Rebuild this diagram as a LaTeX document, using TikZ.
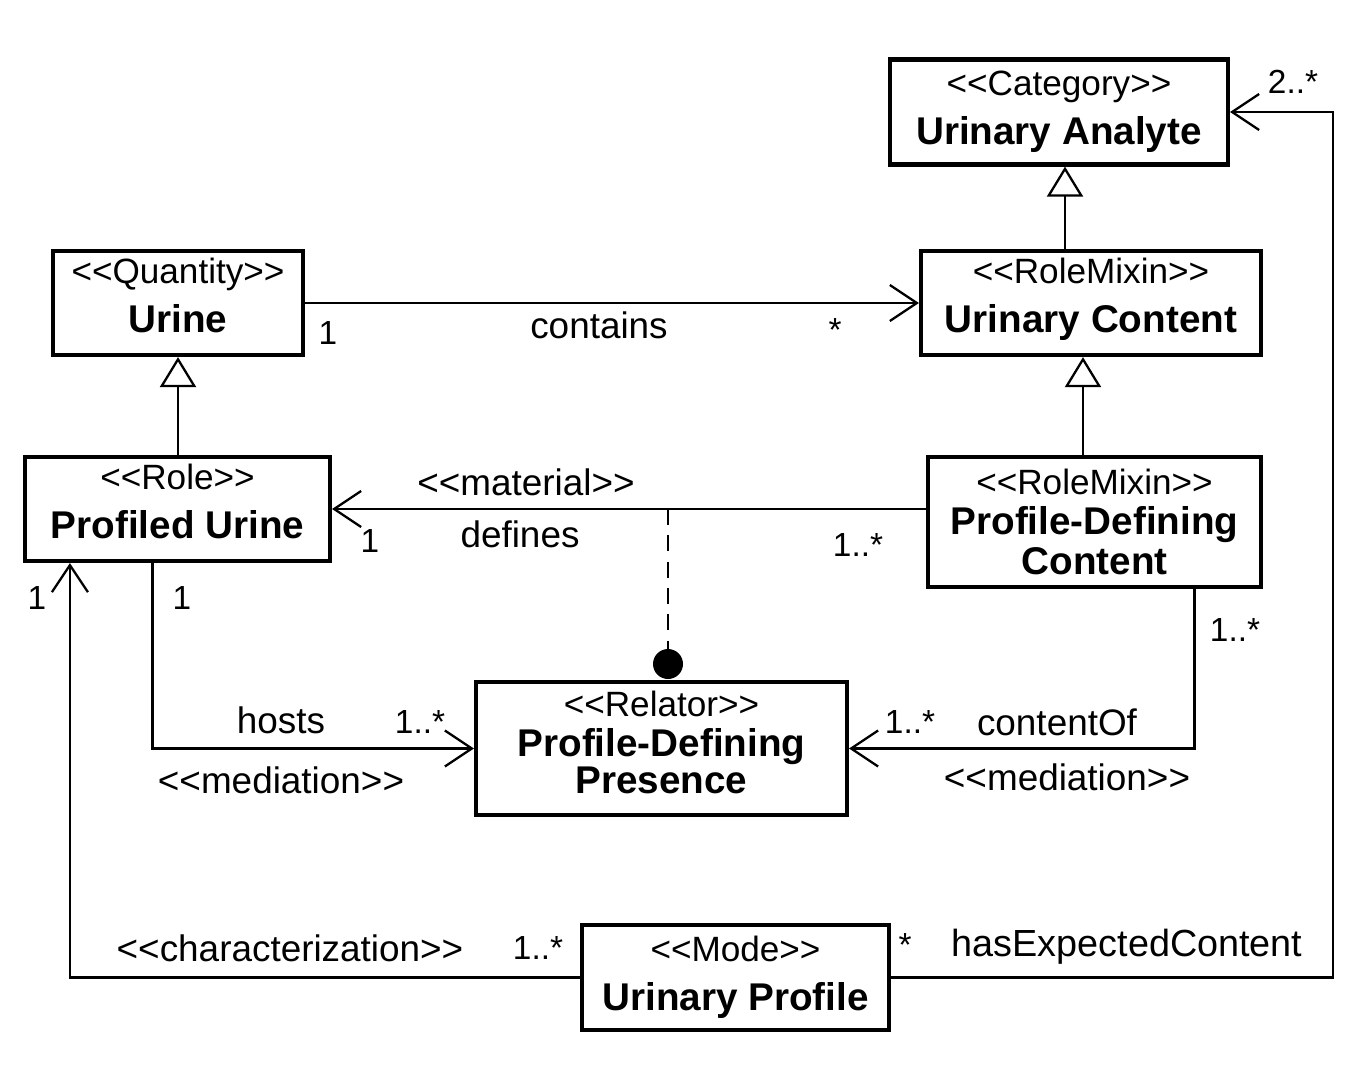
\documentclass[tikz,border=0pt]{standalone}
\usepackage{fontspec}
\setmainfont{Liberation Sans}
\usetikzlibrary{arrows.meta}

\newcommand{\lt}{\textless\kern0pt\textless\kern0pt}
\newcommand{\gt}{\kern0pt\textgreater\kern0pt\textgreater}
\newcommand{\stereo}[1]{{\fontsize{20}{24}\selectfont\lt#1\gt}}
\newcommand{\clsname}[1]{{\bfseries#1}}

\tikzset{
  cls/.style={draw, line width=2.4pt, align=center, inner sep=0pt,
    font=\fontsize{22}{27}\selectfont},
  assoc/.style={line width=1.3pt, -{Straight Barb[length=0.54cm, width=0.72cm, line width=1.3pt]}},
  gen/.style={line width=1.3pt, -{Triangle[open, length=0.6cm, width=0.72cm, line width=1.3pt]}},
  lbl/.style={font=\fontsize{21}{24}\selectfont, inner sep=0pt},
  mult/.style={font=\fontsize{19}{22}\selectfont, inner sep=0pt}
}

\begin{document}
\begin{tikzpicture}[x=0.02cm, y=-0.02cm]

  \useasboundingbox (0,0) rectangle (1370,1076);

  % === Classes ===
  \node[cls, minimum width=6.76cm, minimum height=2.1cm] (uan) at (1059,112)
    {\stereo{Category}\\[1pt]\clsname{Urinary Analyte}};
  \node[cls, minimum width=5.0cm, minimum height=2.08cm, text depth=0.3cm] (urine) at (178,303)
    {\stereo{Quantity}\\[1pt]\clsname{Urine}};
  \node[cls, minimum width=6.8cm, minimum height=2.08cm, text depth=0.3cm] (ucon) at (1091,303)
    {\stereo{RoleMixin}\\[1pt]\clsname{Urinary Content}};
  \node[cls, minimum width=6.1cm, minimum height=2.08cm, text depth=0.3cm] (pu) at (177.5,509)
    {\stereo{Role}\\[1pt]\clsname{Profiled Urine}};
  \node[cls, minimum width=6.66cm, minimum height=2.6cm] (pdc) at (1094.5,522)
    {\stereo{RoleMixin}\\[-4pt]\clsname{Profile-Defining}\\[-4pt]\clsname{Content}};
  \node[cls, minimum width=7.42cm, minimum height=2.66cm, text depth=0.25cm] (pdp) at (661.5,748.5)
    {\stereo{Relator}\\[-4pt]\clsname{Profile-Defining}\\[-6pt]\clsname{Presence}};
  \node[cls, minimum width=6.14cm, minimum height=2.1cm] (up) at (735.5,977.5)
    {\stereo{Mode}\\[1pt]\clsname{Urinary Profile}};

  % === Generalizations ===
  \draw[gen] ([xshift=0.12cm]uan.south |- ucon.north) -- ([xshift=0.12cm]uan.south);
  \draw[gen] ([xshift=-0.16cm]ucon.south |- pdc.north) -- ([xshift=-0.16cm]ucon.south);
  \draw[gen] (urine.south |- pu.north) -- (urine.south);

  % === contains ===
  \draw[assoc] (urine.east) -- (ucon.west);
  \node[mult] (m1) at (328,333) {1};
  \node[lbl] (contains) at (599,325) {contains};
  \node[mult] (m2) at (835,330) {*};

  % === defines (material) ===
  \draw[assoc] (pdc.west |- pu.east) -- (pu.east);
  \node[lbl] (mat) at (526,482) {\lt material\gt};
  \node[lbl] (defines) at (520,534) {defines};
  \node[mult] (m3) at (370,541) {1};
  \node[mult] (m4) at (858,545) {1..*};

  % === relator dot ===
  \coordinate (matpt) at (668,509);
  \node[circle, fill, inner sep=0pt, minimum size=0.6cm] (dot) at (668,664) {};
  \draw[line width=1.3pt, dashed, dash pattern=on 9pt off 6pt] (matpt) -- (dot);

  % === hosts (mediation) ===
  \draw[assoc] ([xshift=-0.5cm]pu.south) |- (pdp.west);
  \node[mult] (m5) at (182,598) {1};
  \node[lbl] (hosts) at (281,720) {hosts};
  \node[mult] (m6) at (420,722) {1..*};
  \node[lbl] (med1) at (281,780) {\lt mediation\gt};

  % === contentOf (mediation) ===
  \draw[assoc] ([xshift=2cm]pdc.south) |- (pdp.east);
  \node[mult] (m7) at (1235,630) {1..*};
  \node[lbl] (contentof) at (1057,722) {contentOf};
  \node[mult] (m8) at (910,722) {1..*};
  \node[lbl] (med2) at (1067,777) {\lt mediation\gt};

  % === characterization ===
  \draw[assoc] (up.west) -| ([xshift=0.94cm]pu.south west);
  \node[lbl] (char) at (290,948) {\lt characterization\gt};
  \node[mult] (m9) at (538,948) {1..*};
  \node[mult] (m10) at (37,598) {1};

  % === hasExpectedContent ===
  \coordinate (ecorner) at (1333,977.5);
  \draw[assoc] (up.east) -- (ecorner) |- (uan.east);
  \node[mult] (m11) at (905,945) {*};
  \node[lbl, font=\fontsize{21.5}{24}\selectfont] (hec) at (1127,947) {hasExpectedContent};
  \node[mult] (m12) at (1293,82) {2..*};

\end{tikzpicture}
\end{document}
